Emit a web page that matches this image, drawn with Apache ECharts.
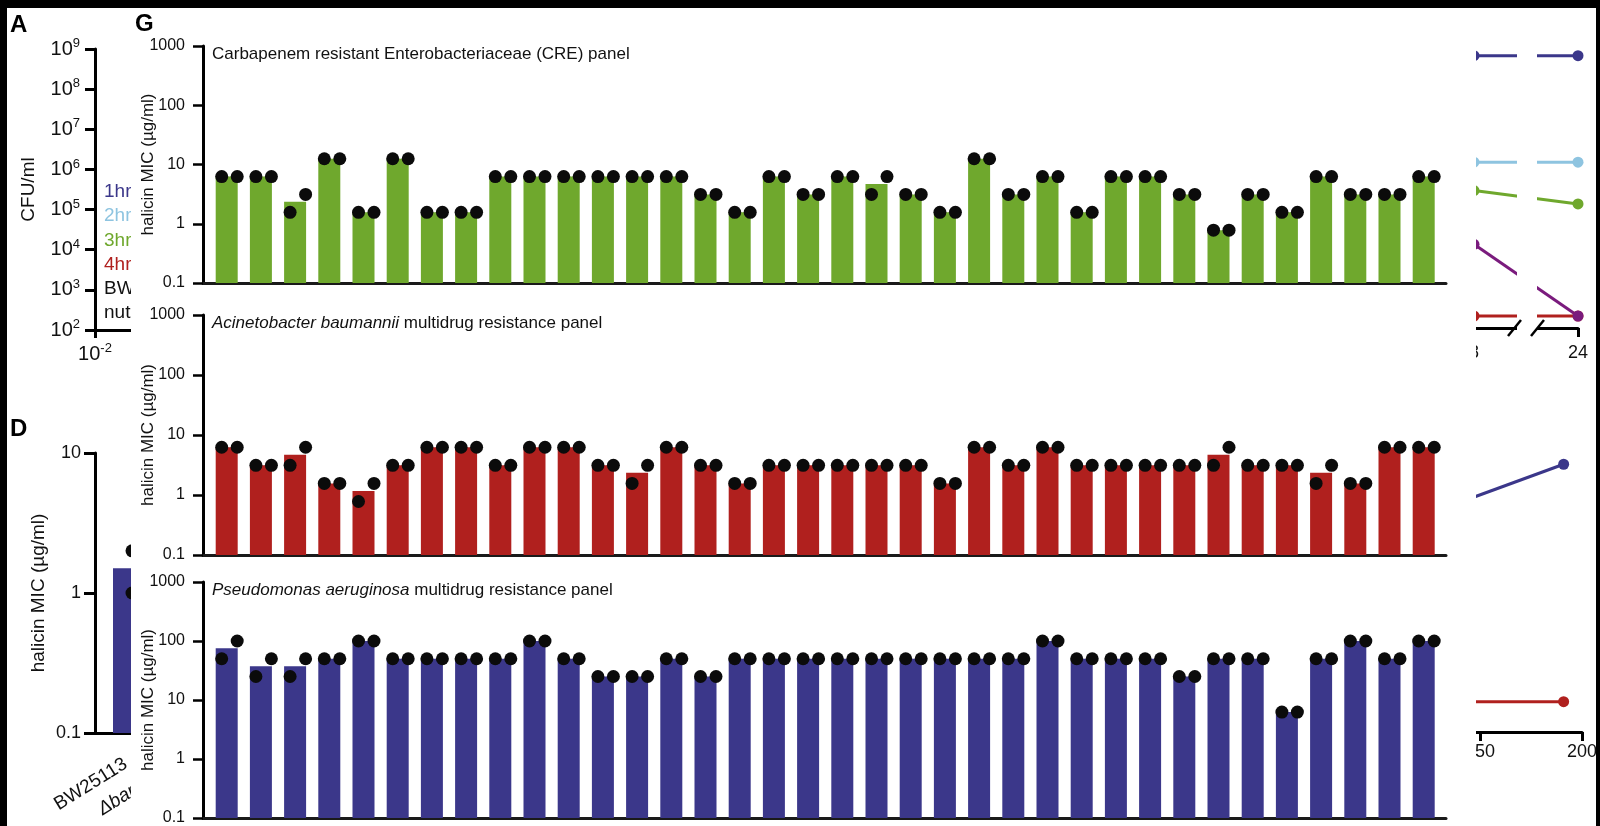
<!DOCTYPE html>
<html>
<head>
<meta charset="utf-8">
<title>halicin MIC panels</title>
<script src="https://cdn.jsdelivr.net/npm/echarts@6/dist/echarts.min.js"></script>
<style>
	html, body { margin: 0; padding: 0; background: #000; }
	#sheet { position: absolute; left: 7px; top: 8px; width: 1589px; height: 818px; background: #fff; }
	#back { position: absolute; left: 0; top: 0; width: 1600px; height: 826px; }
	#panelG { position: absolute; left: 131px; top: 8px; width: 1345px; height: 818px; background: #fff; }
</style>
</head>
<body>
<div id="sheet"></div>
<div id="back"></div>
<div id="panelG"></div>
<script>
// ---- panel G data: halicin MIC (ug/ml), two replicates per strain, bar = mean
var strainNo = [1, 2, 3, 4, 5, 6, 7, 8, 9, 10, 11, 12, 13, 14, 15, 16, 17, 18,
	19, 20, 21, 22, 23, 24, 25, 26, 27, 28, 29, 30, 31, 32, 33, 34, 35, 36];
var yTickLabels = ['0.1', '1', '10', '100', '1000'];

var creBars = [6.25, 6.25, 2.34, 12.5, 1.56, 12.5, 1.56, 1.56, 6.25, 6.25, 6.25, 6.25, 6.25, 6.25, 3.125, 1.56, 6.25, 3.125,
	6.25, 4.69, 3.125, 1.56, 12.5, 3.125, 6.25, 1.56, 6.25, 6.25, 3.125, 0.78, 3.125, 1.56, 6.25, 3.125, 3.125, 6.25];
var creRep1 = [6.25, 6.25, 1.56, 12.5, 1.56, 12.5, 1.56, 1.56, 6.25, 6.25, 6.25, 6.25, 6.25, 6.25, 3.125, 1.56, 6.25, 3.125,
	6.25, 3.125, 3.125, 1.56, 12.5, 3.125, 6.25, 1.56, 6.25, 6.25, 3.125, 0.78, 3.125, 1.56, 6.25, 3.125, 3.125, 6.25];
var creRep2 = [6.25, 6.25, 3.125, 12.5, 1.56, 12.5, 1.56, 1.56, 6.25, 6.25, 6.25, 6.25, 6.25, 6.25, 3.125, 1.56, 6.25, 3.125,
	6.25, 6.25, 3.125, 1.56, 12.5, 3.125, 6.25, 1.56, 6.25, 6.25, 3.125, 0.78, 3.125, 1.56, 6.25, 3.125, 3.125, 6.25];

var abBars = [6.25, 3.125, 4.69, 1.56, 1.17, 3.125, 6.25, 6.25, 3.125, 6.25, 6.25, 3.125, 2.34, 6.25, 3.125, 1.56, 3.125, 3.125,
	3.125, 3.125, 3.125, 1.56, 6.25, 3.125, 6.25, 3.125, 3.125, 3.125, 3.125, 4.69, 3.125, 3.125, 2.34, 1.56, 6.25, 6.25];
var abRep1 = [6.25, 3.125, 3.125, 1.56, 0.78, 3.125, 6.25, 6.25, 3.125, 6.25, 6.25, 3.125, 1.56, 6.25, 3.125, 1.56, 3.125, 3.125,
	3.125, 3.125, 3.125, 1.56, 6.25, 3.125, 6.25, 3.125, 3.125, 3.125, 3.125, 3.125, 3.125, 3.125, 1.56, 1.56, 6.25, 6.25];
var abRep2 = [6.25, 3.125, 6.25, 1.56, 1.56, 3.125, 6.25, 6.25, 3.125, 6.25, 6.25, 3.125, 3.125, 6.25, 3.125, 1.56, 3.125, 3.125,
	3.125, 3.125, 3.125, 1.56, 6.25, 3.125, 6.25, 3.125, 3.125, 3.125, 3.125, 6.25, 3.125, 3.125, 3.125, 1.56, 6.25, 6.25];

var paBars = [75, 37.5, 37.5, 50, 100, 50, 50, 50, 50, 100, 50, 25, 25, 50, 25, 50, 50, 50,
	50, 50, 50, 50, 50, 50, 100, 50, 50, 50, 25, 50, 50, 6.25, 50, 100, 50, 100];
var paRep1 = [50, 25, 25, 50, 100, 50, 50, 50, 50, 100, 50, 25, 25, 50, 25, 50, 50, 50,
	50, 50, 50, 50, 50, 50, 100, 50, 50, 50, 25, 50, 50, 6.25, 50, 100, 50, 100];
var paRep2 = [100, 50, 50, 50, 100, 50, 50, 50, 50, 100, 50, 25, 25, 50, 25, 50, 50, 50,
	50, 50, 50, 50, 50, 50, 100, 50, 50, 50, 25, 50, 50, 6.25, 50, 100, 50, 100];

// ---- fragments of the neighbouring panels
var aYExp = [2, 3, 4, 5, 6, 7, 8, 9];
var aXExp = [-2, -1, 0, 1, 2];
var aLegend = ['1hr', '2hr', '3hr', '4hr', 'BW', 'nut'];

var dLabels = ['BW25113', '\u0394bamB'];
var dBars = [1.5];
var dRep = [2, 1];
var dTickLabels = ['0.1', '1', '10'];

var killHours = [8, 24];
var kill1 = [6.8e8, 6.8e8];
var kill2 = [1.45e6, 1.45e6];
var kill3 = [2.8e5, 1.3e5];
var kill4 = [200, 200];
var kill5 = [1.26e4, 200];

var doseX = [100, 191];
var doseBlue = [68.4, 91.7];
var doseRed = [10.4, 10.4];

var font = '"Liberation Sans", Arial, Helvetica, sans-serif';
var ink = '#111';
var colBlue = '#3b378a', colLight = '#8ec4e0', colGreen = '#6fa82d', colRed = '#b0201e', colPurple = '#7a1b7d';

function pairs(xs, ys) {
	var out = [];
	for (var i = 0; i < ys.length; i++) out.push([xs[i], ys[i]]);
	return out;
}

// ================= panel G =================
var GX = 131, GY = 8;
var rows = [
	{ top: 46, bottom: 283, color: colGreen, bars: creBars, r1: creRep1, r2: creRep2,
		title: '{n|Carbapenem resistant Enterobacteriaceae (CRE) panel}' },
	{ top: 315, bottom: 555, color: colRed, bars: abBars, r1: abRep1, r2: abRep2,
		title: '{i|Acinetobacter baumannii}{n| multidrug resistance panel}' },
	{ top: 582, bottom: 818, color: colBlue, bars: paBars, r1: paRep1, r2: paRep2,
		title: '{i|Pseudomonas aeruginosa}{n| multidrug resistance panel}' }
];

var grids = [], xAxes = [], yAxes = [], series = [], graphics = [];
rows.forEach(function (r, k) {
	var idx = strainNo.map(function (s) { return s - 1; });
	grids.push({
		left: 203 - GX, top: r.top - GY, width: 1243, height: r.bottom - r.top,
		containLabel: false, outerBoundsMode: 'none'
	});
	xAxes.push({
		gridIndex: k, type: 'value', min: -0.693, max: 35.652,
		axisLine: { show: true, onZero: false, lineStyle: { color: '#1a1a1a', width: 3 } },
		axisTick: { show: false }, axisLabel: { show: false }, splitLine: { show: false }
	});
	yAxes.push({
		gridIndex: k, type: 'log', logBase: 10, min: 0.1, max: 1000,
		axisLine: { show: true, onZero: false, lineStyle: { color: '#000', width: 3 } },
		axisTick: { show: true, length: 10, lineStyle: { color: '#000', width: 2.5 } },
		axisLabel: {
			fontSize: 16, fontFamily: font, color: ink, margin: 18,
			formatter: function (v) { return yTickLabels[Math.round(Math.log10(v)) + 1]; }
		},
		splitLine: { show: false },
		name: 'halicin MIC (\u00b5g/ml)', nameLocation: 'middle', nameGap: 46, nameMoveOverlap: false,
		nameTextStyle: { fontSize: 17, fontFamily: font, color: ink }
	});
	series.push({
		type: 'custom', xAxisIndex: k, yAxisIndex: k,
		data: pairs(idx, r.bars),
		renderItem: function (params, api) {
			var top = api.coord([api.value(0), api.value(1)]);
			var base = api.coord([api.value(0), 0.1]);
			var w = 22;
			return {
				type: 'rect',
				shape: { x: top[0] - w / 2, y: top[1], width: w, height: base[1] - top[1] },
				style: { fill: r.color }
			};
		}
	});
	series.push({
		type: 'scatter', xAxisIndex: k, yAxisIndex: k, data: pairs(idx, r.r1),
		symbolSize: 13, symbolOffset: [-5, 0], itemStyle: { color: '#0b0b0b', opacity: 1 }, z: 4
	});
	series.push({
		type: 'scatter', xAxisIndex: k, yAxisIndex: k, data: pairs(idx, r.r2),
		symbolSize: 13, symbolOffset: [10.5, 0], itemStyle: { color: '#0b0b0b', opacity: 1 }, z: 4
	});
	graphics.push({
		type: 'text', x: 212 - GX, y: r.top - GY + 8, z: 10,
		style: {
			text: r.title, fill: ink, verticalAlign: 'middle', textVerticalAlign: 'middle',
			rich: {
				n: { fontSize: 17, fontFamily: font, color: ink },
				i: { fontSize: 17, fontFamily: font, fontStyle: 'italic', color: ink }
			}
		}
	});
});
graphics.push({
	type: 'text', x: 4, y: 24 - GY, z: 10,
	style: { text: 'G', fill: '#000', font: 'bold 24px ' + font, verticalAlign: 'middle', textVerticalAlign: 'middle' }
});

var chartG = echarts.init(document.getElementById('panelG'));
chartG.setOption({
	animation: false,
	grid: grids, xAxis: xAxes, yAxis: yAxes, series: series, graphic: graphics
});

// ================= background fragments =================
var supRich = {
	b: { fontSize: 20, fontFamily: font, color: ink, lineHeight: 24 },
	s: { fontSize: 13, fontFamily: font, color: ink, lineHeight: 13, verticalAlign: 'top' }
};
function hidden(k, extra) {
	return Object.assign({ gridIndex: k, show: false }, extra);
}

var bgGraphics = [
	{ type: 'text', x: 10, y: 25, style: { text: 'A', fill: '#000', font: 'bold 24px ' + font, verticalAlign: 'middle', textVerticalAlign: 'middle' } },
	{ type: 'text', x: 10, y: 429, style: { text: 'D', fill: '#000', font: 'bold 24px ' + font, verticalAlign: 'middle', textVerticalAlign: 'middle' } },
	// axis break on the time axis
	{ type: 'rect', shape: { x: 1517, y: 40, width: 20, height: 292 }, style: { fill: '#fff' }, z: 50 },
	{ type: 'line', shape: { x1: 1508, y1: 336, x2: 1521, y2: 320 }, style: { stroke: '#000', lineWidth: 2.5 }, z: 51 },
	{ type: 'line', shape: { x1: 1531, y1: 336, x2: 1544, y2: 320 }, style: { stroke: '#000', lineWidth: 2.5 }, z: 51 },
	{ type: 'text', x: 56, y: 806, rotation: 32 * Math.PI / 180,
		style: { text: dLabels[0], fill: ink, font: '19px ' + font, verticalAlign: 'middle', textVerticalAlign: 'middle' } },
	{ type: 'text', x: 100, y: 811, rotation: 32 * Math.PI / 180,
		style: { text: dLabels[1], fill: ink, font: 'italic 19px ' + font, verticalAlign: 'middle', textVerticalAlign: 'middle' } }
];
var legendColors = [colBlue, colLight, colGreen, colRed, ink, ink];
aLegend.forEach(function (t, i) {
	bgGraphics.push({
		type: 'text', x: 104, y: 191.7 + i * 24.3,
		style: { text: t, fill: legendColors[i], font: '19px ' + font, verticalAlign: 'middle', textVerticalAlign: 'middle' }
	});
});

function lineSeries(k, data, color) {
	return {
		type: 'line', xAxisIndex: k, yAxisIndex: k, data: data,
		symbol: 'circle', symbolSize: 11, showSymbol: true,
		lineStyle: { color: color, width: 3 }, itemStyle: { color: color, opacity: 1 }
	};
}

function bgGrid(left, top, width, height) {
	return { left: left, top: top, width: width, height: height, containLabel: false, outerBoundsMode: 'none' };
}

var back = echarts.init(document.getElementById('back'));
back.setOption({
	animation: false,
	grid: [
		bgGrid(95, 49, 400, 281),
		bgGrid(95, 453, 152, 280),
		bgGrid(1422, 49, 156, 279),
		bgGrid(1378, 440, 204, 292)
	],
	xAxis: [
		{
			gridIndex: 0, type: 'log', min: 0.01, max: 100,
			axisLine: { show: true, onZero: false, lineStyle: { color: '#000', width: 3 } },
			axisTick: { show: true, length: 8, lineStyle: { color: '#000', width: 3 } },
			axisLabel: { margin: 12, formatter: function (v, i) { return '{b|10}{s|' + aXExp[i] + '}'; }, rich: supRich },
			splitLine: { show: false }
		},
		{
			gridIndex: 1, type: 'value', min: -0.5, max: 1.5,
			axisLine: { show: true, onZero: false, lineStyle: { color: '#000', width: 3 } },
			axisTick: { show: false }, axisLabel: { show: false }, splitLine: { show: false }
		},
		{
			gridIndex: 2, type: 'value', min: 0, max: 24,
			axisLine: { show: true, onZero: false, lineStyle: { color: '#000', width: 3 } },
			axisTick: { show: true, length: 9, customValues: killHours, lineStyle: { color: '#000', width: 3 } },
			axisLabel: { customValues: killHours, margin: 16, fontSize: 18, fontFamily: font, color: ink },
			splitLine: { show: false }
		},
		{
			gridIndex: 3, type: 'value', min: 100, max: 200,
			axisLine: { show: true, onZero: false, lineStyle: { color: '#000', width: 3 } },
			axisTick: { show: true, length: 9, customValues: [150, 200], lineStyle: { color: '#000', width: 3 } },
			axisLabel: { customValues: [150, 200], margin: 11, fontSize: 18, fontFamily: font, color: ink },
			splitLine: { show: false }
		}
	],
	yAxis: [
		{
			gridIndex: 0, type: 'log', min: 100, max: 1e9,
			axisLine: { show: true, onZero: false, lineStyle: { color: '#000', width: 3 } },
			axisTick: { show: true, length: 10, lineStyle: { color: '#000', width: 3 } },
			axisLabel: { margin: 15, formatter: function (v, i) { return '{b|10}{s|' + aYExp[i] + '}'; }, rich: supRich },
			splitLine: { show: false },
			name: 'CFU/ml', nameLocation: 'middle', nameGap: 57, nameMoveOverlap: false,
			nameTextStyle: { fontSize: 19, fontFamily: font, color: ink }
		},
		{
			gridIndex: 1, type: 'log', min: 0.1, max: 10,
			axisLine: { show: true, onZero: false, lineStyle: { color: '#000', width: 3 } },
			axisTick: { show: true, length: 11, lineStyle: { color: '#000', width: 3 } },
			axisLabel: { margin: 14, fontSize: 18, fontFamily: font, color: ink,
				formatter: function (v) { return dTickLabels[Math.round(Math.log10(v)) + 1]; } },
			splitLine: { show: false },
			name: 'halicin MIC (\u00b5g/ml)', nameLocation: 'middle', nameGap: 47, nameMoveOverlap: false,
			nameTextStyle: { fontSize: 19, fontFamily: font, color: ink }
		},
		hidden(2, { type: 'log', min: 100, max: 1e9 }),
		hidden(3, { type: 'value', min: 0, max: 100 })
	],
	series: [
		{
			type: 'custom', xAxisIndex: 1, yAxisIndex: 1, data: pairs([0], dBars),
			renderItem: function (params, api) {
				var top = api.coord([api.value(0), api.value(1)]);
				var base = api.coord([api.value(0), 0.1]);
				return { type: 'rect', shape: { x: top[0] - 20, y: top[1], width: 40, height: base[1] - top[1] }, style: { fill: colBlue } };
			}
		},
		{
			type: 'scatter', xAxisIndex: 1, yAxisIndex: 1, data: pairs([0, 0], dRep),
			symbolSize: 13, symbolOffset: [-1, 0], itemStyle: { color: '#0b0b0b', opacity: 1 }, z: 4
		},
		lineSeries(2, pairs(killHours, kill1), colBlue),
		lineSeries(2, pairs(killHours, kill2), colLight),
		lineSeries(2, pairs(killHours, kill3), colGreen),
		lineSeries(2, pairs(killHours, kill4), colRed),
		lineSeries(2, pairs(killHours, kill5), colPurple),
		lineSeries(3, pairs(doseX, doseBlue), colBlue),
		lineSeries(3, pairs(doseX, doseRed), colRed)
	],
	graphic: bgGraphics
});
</script>
</body>
</html>
